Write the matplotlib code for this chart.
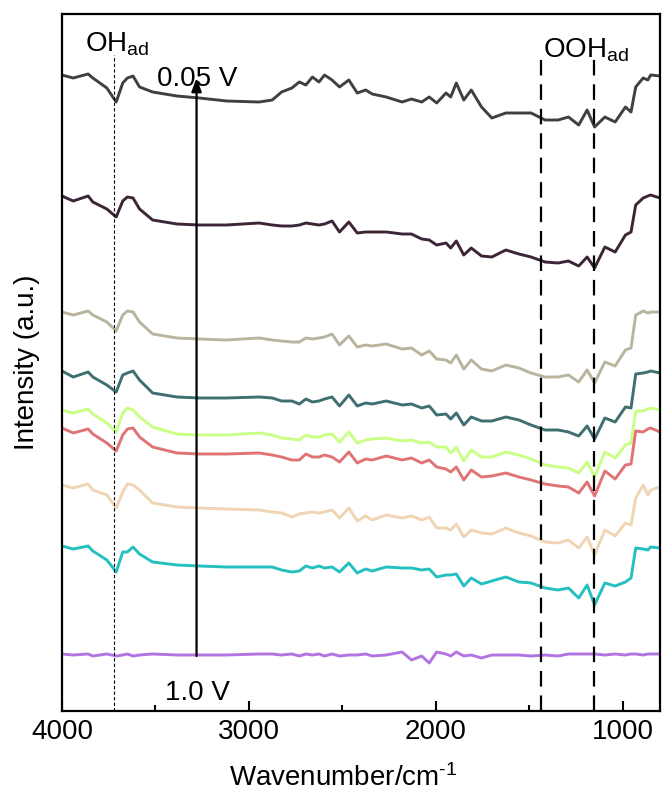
import matplotlib
matplotlib.use("Agg")
import matplotlib.pyplot as plt

plt.rcParams['font.family'] = ['Liberation Sans', 'DejaVu Sans']
plt.rcParams['mathtext.fontset'] = 'custom'
plt.rcParams['mathtext.rm'] = 'Liberation Sans'
plt.rcParams['mathtext.it'] = 'Liberation Sans:italic'
plt.rcParams['mathtext.default'] = 'regular'

# ---------------- data ----------------
wavenumber = [4000, 3940, 3860, 3835, 3760, 3710, 3675, 3650, 3620, 3585,
              3515, 3385, 3265, 3120, 2945, 2875, 2825, 2770, 2730, 2695,
              2660, 2625, 2595, 2555, 2515, 2465, 2420, 2375, 2340, 2265,
              2180, 2130, 2075, 2035, 1995, 1945, 1920, 1890, 1850, 1810,
              1755, 1700, 1625, 1555, 1490, 1415, 1345, 1290, 1235, 1190,
              1150, 1095, 1040, 985, 955, 930, 890, 865, 850, 800]

s_005 = [636, 633, 637, 633, 623, 609, 628, 633, 635, 624,
         619, 615, 613, 610, 609, 611, 619, 623, 629, 626,
         634, 629, 636, 631, 624, 631, 618, 621, 617, 614,
         609, 612, 609, 614, 608, 618, 614, 628, 611, 621,
         604, 593, 598, 598, 598, 591, 591, 594, 586, 601,
         584, 594, 589, 604, 599, 624, 633, 631, 636, 635]
s_2 = [515, 510, 515, 509, 502, 494, 510, 514, 513, 502,
       491, 487, 486, 486, 488, 486, 485, 485, 486, 488,
       487, 486, 487, 490, 479, 489, 478, 479, 479, 479,
       477, 477, 472, 471, 466, 468, 463, 470, 456, 463,
       455, 454, 461, 457, 454, 449, 448, 450, 445, 454,
       443, 464, 459, 476, 479, 506, 513, 515, 516, 513]
s_3 = [399, 396, 400, 396, 389, 380, 396, 400, 399, 389,
       377, 373, 372, 371, 373, 371, 370, 369, 369, 373,
       372, 373, 374, 377, 366, 375, 364, 366, 365, 367,
       362, 363, 356, 360, 352, 351, 348, 356, 342, 351,
       342, 340, 346, 343, 338, 334, 334, 336, 329, 341,
       328, 349, 345, 361, 363, 396, 400, 398, 399, 399]
s_4 = [340, 334, 339, 334, 326, 319, 336, 338, 340, 331,
       318, 314, 313, 313, 314, 313, 310, 310, 307, 312,
       309, 310, 312, 314, 305, 316, 305, 308, 307, 310,
       306, 307, 303, 305, 296, 297, 292, 298, 286, 294,
       290, 290, 294, 291, 286, 281, 281, 279, 275, 285,
       272, 293, 289, 304, 303, 337, 338, 339, 340, 338]
s_5 = [301, 298, 302, 297, 288, 279, 298, 303, 301, 294,
       284, 277, 276, 276, 278, 276, 273, 272, 271, 276,
       274, 274, 276, 277, 269, 279, 268, 271, 272, 273,
       270, 271, 268, 269, 264, 264, 258, 264, 250, 261,
       254, 254, 259, 256, 252, 246, 244, 243, 238, 249,
       234, 259, 253, 266, 268, 300, 300, 302, 303, 301]
s_6 = [283, 278, 282, 277, 268, 260, 276, 282, 283, 274,
       264, 258, 257, 257, 258, 256, 254, 251, 251, 257,
       254, 254, 256, 254, 249, 259, 248, 252, 251, 255,
       251, 253, 248, 251, 244, 242, 239, 244, 231, 241,
       234, 235, 238, 234, 231, 227, 225, 224, 218, 229,
       215, 240, 232, 246, 247, 280, 279, 282, 283, 279]
s_7 = [226, 223, 227, 221, 216, 203, 219, 227, 226, 221,
       208, 204, 203, 202, 201, 199, 198, 194, 197, 198,
       199, 198, 199, 201, 193, 203, 190, 195, 191, 196,
       193, 195, 191, 194, 183, 183, 181, 187, 174, 181,
       178, 177, 183, 178, 175, 169, 168, 171, 163, 174,
       156, 181, 175, 188, 186, 213, 226, 216, 221, 224]
s_8 = [165, 162, 165, 160, 151, 139, 159, 159, 164, 157,
       149, 146, 145, 144, 144, 144, 141, 139, 140, 145,
       143, 145, 143, 144, 139, 148, 138, 142, 140, 144,
       143, 143, 141, 142, 134, 136, 136, 137, 125, 133,
       127, 130, 134, 129, 128, 123, 121, 123, 113, 126,
       106, 128, 125, 129, 133, 163, 162, 161, 164, 163]
s_10 = [57, 56, 57, 55, 57, 55, 56, 57, 55, 56,
        57, 56, 56, 56, 57, 57, 56, 57, 55, 57,
        56, 57, 55, 57, 55, 56, 56, 57, 55, 56,
        59, 51, 55, 48, 59, 57, 55, 59, 55, 56,
        53, 56, 56, 56, 55, 56, 55, 57, 57, 57,
        57, 56, 57, 56, 57, 57, 56, 57, 57, 57]

series = [s_005, s_2, s_3, s_4, s_5, s_6, s_7, s_8, s_10]
colors = ['#404040', '#3c2536', '#b8b49e', '#3e6f71', '#c8ff84',
          '#e07474', '#f0d4b4', '#24c0c0', '#b274e2']

oh_band = 3720
ooh_bands = [1435, 1152]
arrow_x = 3280
arrow_from, arrow_to = 55, 633

# ---------------- figure ----------------
W, H = 663, 796
fig = plt.figure(figsize=(W / 100, H / 100), dpi=100)
ax = fig.add_axes([62 / W, (H - 711) / H, 598 / W, 697 / H])

for ys, c in zip(series, colors):
    ax.plot(wavenumber, ys, color=c, lw=2.1, solid_joinstyle='round')

ax.plot([oh_band, oh_band], [0, 656], color='black', lw=0.8, ls=(0, (3, 2)))
for b in ooh_bands:
    ax.plot([b, b], [0, 660], color='black', lw=1.6, ls=(0, (7, 4)))

ax.annotate('', xy=(arrow_x, arrow_to), xytext=(arrow_x, arrow_from),
            arrowprops=dict(arrowstyle='-|>,head_length=0.8,head_width=0.3',
                            color='black', lw=1.6, shrinkA=0, shrinkB=0))

fs = 20
ax.text(3877, 659, r'OH$_{ad}$', fontsize=fs, va='baseline', ha='left')
ax.text(1424, 654, r'OOH$_{ad}$', fontsize=fs, va='baseline', ha='left')
ax.text(3493, 625, '0.05 V', fontsize=fs, va='baseline', ha='left')
ax.text(3451, 11, '1.0 V', fontsize=fs, va='baseline', ha='left')

ax.set_xlim(4000, 800)
ax.set_ylim(0, 697)
ax.set_xticks([4000, 3000, 2000, 1000])
ax.set_xticks([3500, 2500, 1500], minor=True)
ax.set_yticks([])
ax.tick_params(axis='x', which='major', direction='in', length=7, width=1.5,
               labelsize=fs, pad=6)
ax.tick_params(axis='x', which='minor', direction='in', length=4, width=1.5)
for sp in ax.spines.values():
    sp.set_linewidth(1.6)

ax.set_xlabel('Wavenumber/cm$^{\u20101}$', fontsize=fs)
ax.xaxis.set_label_coords(0.47, -0.077)
ax.set_ylabel('Intensity (a.u.)', fontsize=fs)
ax.yaxis.set_label_coords(-0.037, 0.5)

fig.savefig('out.png', dpi=100)
